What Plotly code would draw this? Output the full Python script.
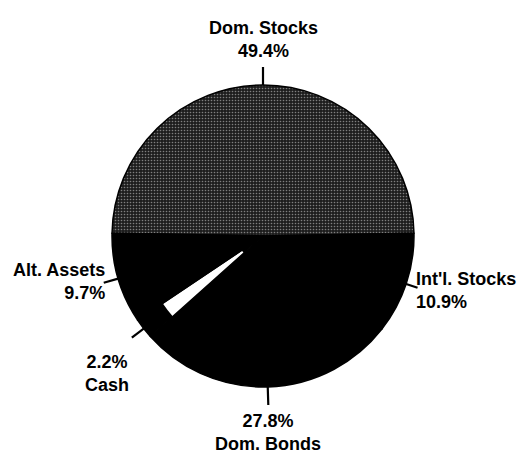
import math
import plotly.graph_objects as go

# Portfolio allocation
labels = ["Dom. Stocks", "Int'l. Stocks", "Dom. Bonds", "Cash", "Alt. Assets"]
shares = [49.4, 10.9, 27.8, 2.2, 9.7]
fills = ["#1e1e1e", "#000000", "#000000", "#ffffff", "#000000"]
dot_shapes = [".", "", "", "", ""]

W, H = 518, 458
cx, cy, R = 263, 236, 151
margin = dict(l=cx - R, r=W - (cx + R), t=cy - R, b=H - (cy + R), pad=0)
side = 2 * R

total = sum(shares)
start = -180.0 * shares[0] / total          # centre the first slice on 12 o'clock
mids = []
acc = start
for v in shares:
    span = 360.0 * v / total
    mids.append(acc + span / 2)
    acc += span


def to_paper(px, py):
    return (px - margin["l"]) / side, 1 - (py - margin["t"]) / side


def polar(angle_deg, radius):
    a = math.radians(angle_deg)
    return cx + radius * math.sin(a), cy - radius * math.cos(a)


common = dict(labels=labels, values=shares, sort=False, direction="clockwise",
              rotation=start, textinfo="none", hoverinfo="skip", showlegend=False)

fig = go.Figure()

fig.add_trace(go.Pie(
    **common,
    marker=dict(
        colors=fills,
        line=dict(color="#000000", width=1.5),
        pattern=dict(shape=dot_shapes, fgcolor="#e0e0e0",
                     size=3, solidity=0.24, fillmode="overlay"),
    ),
))

# dark rim and hub over the light cash wedge
cover = ["#000000" if c == "#ffffff" else "rgba(0,0,0,0)" for c in fills]
fig.add_trace(go.Pie(**common, hole=0.8,
                     marker=dict(colors=cover, line=dict(width=0))))
hub = 0.085
fig.add_trace(go.Pie(**common, domain=dict(x=[0.5 - hub, 0.5 + hub], y=[0.5 - hub, 0.5 + hub]),
                     marker=dict(colors=cover, line=dict(width=0))))

# label text, leader length (px), anchors, shifts and alignment per slice
label_text = [
    "Dom. Stocks<br>49.4%",
    "Int'l. Stocks<br>10.9%",
    "27.8%<br>Dom. Bonds",
    "2.2%<br>Cash",
    "Alt. Assets<br>9.7%",
]
leader_len = [18, 12, 18, 15, 15]
x_anchor = ["center", "left", "center", "right", "right"]
y_anchor = ["bottom", "bottom", "top", "top", "bottom"]
x_shift = [0, -4, 0, -1, 3]
y_shift = [4, -26, -4, -12, -22]
align = ["center", "left", "center", "center", "right"]

font = dict(family="Liberation Sans, Arial, sans-serif",
            size=18, color="#000000", weight="bold")

shapes = []
annotations = []
for i, m in enumerate(mids):
    x0, y0 = to_paper(*polar(m, R))
    x1, y1 = to_paper(*polar(m, R + leader_len[i]))
    shapes.append(dict(type="line", xref="paper", yref="paper",
                       x0=x0, y0=y0, x1=x1, y1=y1,
                       line=dict(color="#000000", width=2.2)))
    annotations.append(dict(xref="paper", yref="paper", x=x1, y=y1,
                            text=label_text[i], showarrow=False,
                            xanchor=x_anchor[i], yanchor=y_anchor[i],
                            xshift=x_shift[i], yshift=y_shift[i],
                            align=align[i], font=font))

fig.update_layout(
    width=W, height=H, margin=margin,
    paper_bgcolor="#ffffff", plot_bgcolor="#ffffff",
    shapes=shapes, annotations=annotations, showlegend=False,
)

fig.write_html("out.html")
